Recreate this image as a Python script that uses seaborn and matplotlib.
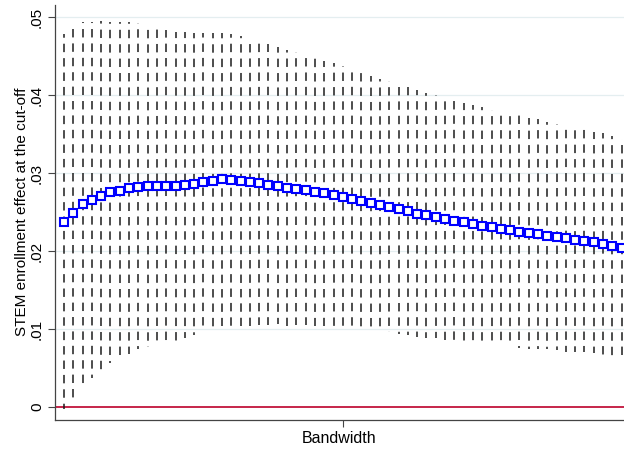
import matplotlib
matplotlib.use("Agg")
import matplotlib.pyplot as plt
import seaborn as sns

# ---- data ----
bandwidth = list(range(1, 62))
estimate = [0.02376, 0.02483, 0.02603, 0.02654, 0.02705, 0.02752, 0.02774, 0.02812, 0.02825, 0.02829,
            0.02830, 0.02831, 0.02833, 0.02846, 0.02863, 0.02880, 0.02897, 0.02919, 0.02910, 0.02897,
            0.02880, 0.02868, 0.02850, 0.02837, 0.02812, 0.02795, 0.02778, 0.02760, 0.02744, 0.02718,
            0.02696, 0.02671, 0.02645, 0.02619, 0.02594, 0.02568, 0.02538, 0.02509, 0.02479, 0.02457,
            0.02436, 0.02410, 0.02389, 0.02368, 0.02352, 0.02325, 0.02303, 0.02282, 0.02265, 0.02248,
            0.02231, 0.02216, 0.02196, 0.02179, 0.02163, 0.02145, 0.02128, 0.02112, 0.02094, 0.02068,
            0.02042]
ci_high = [0.0478, 0.0484, 0.0493, 0.0493, 0.0495, 0.0494, 0.0494, 0.0494, 0.0492, 0.0489,
           0.0486, 0.0483, 0.0481, 0.0481, 0.0480, 0.0479, 0.0480, 0.0480, 0.0478, 0.0476,
           0.0472, 0.0469, 0.0465, 0.0462, 0.0458, 0.0455, 0.0451, 0.0448, 0.0444, 0.0441,
           0.0437, 0.0433, 0.0430, 0.0425, 0.0421, 0.0418, 0.0414, 0.0410, 0.0406, 0.0403,
           0.0400, 0.0396, 0.0393, 0.0390, 0.0387, 0.0385, 0.0381, 0.0378, 0.0376, 0.0374,
           0.0371, 0.0369, 0.0366, 0.0363, 0.0361, 0.0359, 0.0356, 0.0353, 0.0351, 0.0348,
           0.0344]
ci_low = [-0.0002, 0.0012, 0.0027, 0.0037, 0.0047, 0.0056, 0.0060, 0.0068, 0.0074, 0.0077,
          0.0080, 0.0083, 0.0085, 0.0089, 0.0092, 0.0097, 0.0100, 0.0104, 0.0104, 0.0104,
          0.0104, 0.0105, 0.0105, 0.0106, 0.0104, 0.0105, 0.0105, 0.0104, 0.0104, 0.0103,
          0.0103, 0.0101, 0.0100, 0.0099, 0.0097, 0.0096, 0.0094, 0.0092, 0.0090, 0.0089,
          0.0088, 0.0086, 0.0085, 0.0084, 0.0083, 0.0081, 0.0079, 0.0078, 0.0078, 0.0076,
          0.0075, 0.0075, 0.0074, 0.0073, 0.0071, 0.0071, 0.0070, 0.0069, 0.0067, 0.0066,
          0.0064]
y_ticks = [0, 0.01, 0.02, 0.03, 0.04, 0.05]
y_tick_labels = ["0", ".01", ".02", ".03", ".04", ".05"]
x_ticks = [31]
x_tick_labels = [""]
x_label = "Bandwidth"
y_label = "STEM enrollment effect at the cut-off"

# ---- style ----
sns.set_style("white")
plt.rcParams["font.family"] = ["Liberation Sans", "DejaVu Sans"]
plt.rcParams["lines.scale_dashes"] = False
plt.rcParams["text.color"] = "black"
plt.rcParams["axes.labelcolor"] = "black"

W, H = 624, 451
fig = plt.figure(figsize=(W / 100, H / 100), dpi=100)
ax = fig.add_axes([55 / W, (H - 419.5) / H, 569 / W, (419.5 - 5) / H])
ax.set_xlim(0.03, 61.25)
ax.set_ylim(-0.0016, 0.05154)

# grid lines
for yt in y_ticks[1:]:
    ax.axhline(yt, color="#E4EEF0", lw=0.9, zorder=0)

# zero reference line
ax.axhline(0, color="#C2143C", lw=1.3, zorder=1)

# dashed confidence-interval spikes, dash phase anchored globally
P_px, on_px, off_px = 14.4, 8.4, 6.0
anchor = 58.3
pt = 72 / 100
for b, lo, hi in zip(bandwidth, ci_low, ci_high):
    top_img = H - ax.transData.transform((b, hi))[1]
    off = (top_img - anchor) % P_px
    ax.plot([b, b], [hi, lo], color="#1c1c1c", lw=1.1,
            linestyle=(off * pt, (on_px * pt, off_px * pt)), zorder=2)

# point estimates
sns.lineplot(x=bandwidth, y=estimate, ax=ax, marker="s", markersize=5.6,
             markerfacecolor="white", markeredgecolor="#0000FF", markeredgewidth=1.5,
             linewidth=0, errorbar=None, zorder=3)

# axes
ax.set_yticks(y_ticks)
ax.set_yticklabels(y_tick_labels, rotation=90, va="center", fontsize=11)
ax.set_xticks(x_ticks)
ax.set_xticklabels(x_tick_labels)
ax.tick_params(axis="both", direction="out", length=5, width=0.8, color="#444444",
               left=True, bottom=True, pad=3, labelcolor="black")
for s in ["top", "right"]:
    ax.spines[s].set_visible(False)
for s in ["left", "bottom"]:
    ax.spines[s].set_color("#444444")
    ax.spines[s].set_linewidth(0.9)

ax.set_xlabel(x_label, fontsize=11.5, labelpad=0, color="black")
ax.set_ylabel(y_label, fontsize=11, labelpad=1, color="black")

fig.savefig("out.png", dpi=100)
